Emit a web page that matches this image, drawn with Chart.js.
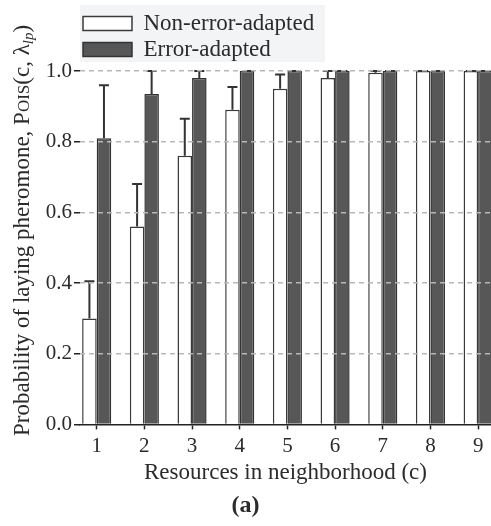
<!DOCTYPE html>
<html>
<head>
<meta charset="utf-8">
<script src="https://cdn.jsdelivr.net/npm/chart.js@4"></script>
<style>
  html, body { margin: 0; padding: 0; background: #ffffff; }
  #wrap { width: 491px; height: 526px; }
</style>
</head>
<body>
<div id="wrap"><canvas id="c"></canvas></div>
<script>
// ---- data ----
const categories = [1, 2, 3, 4, 5, 6, 7, 8, 9];
const nonErrorAdapted = [0.30, 0.56, 0.76, 0.89, 0.95, 0.98, 0.995, 1.0, 1.0];
const nonErrorAdaptedErr = [0.105, 0.12, 0.105, 0.065, 0.04, 0.02, 0.005, 0.0, 0.0];
const errorAdapted = [0.81, 0.935, 0.98, 1.0, 1.0, 1.0, 1.0, 1.0, 1.0];
const errorAdaptedErr = [0.15, 0.065, 0.02, 0.0, 0.0, 0.0, 0.0, 0.0, 0.0];
const yTicks = [0.0, 0.2, 0.4, 0.6, 0.8, 1.0];
const seriesNames = ['Non-error-adapted', 'Error-adapted'];
const xTitle = 'Resources in neighborhood (c)';
const yTitleParts = ['Probability of laying pheromone, P', 'OIS', '(c, λ', 'lp', ')'];
const panelLabel = '(a)';

const SERIF = '"Liberation Serif", "Times New Roman", serif';
const TEXT = '#2b2b2b';

const errorBars = {
  id: 'errorBars',
  afterDatasetsDraw(chart) {
    const ctx = chart.ctx;
    const ys = chart.scales.y;
    const errs = [nonErrorAdaptedErr, errorAdaptedErr];
    chart.data.datasets.forEach((ds, di) => {
      const meta = chart.getDatasetMeta(di);
      meta.data.forEach((bar, i) => {
        const v = ds.data[i].y;
        const top = ys.getPixelForValue(v + errs[di][i]);
        const base = ys.getPixelForValue(v);
        ctx.save();
        ctx.strokeStyle = '#333';
        ctx.lineWidth = 2;
        ctx.beginPath();
        ctx.moveTo(bar.x, base);
        ctx.lineTo(bar.x, top);
        ctx.moveTo(bar.x - 5, top);
        ctx.lineTo(bar.x + 5, top);
        ctx.stroke();
        ctx.restore();
      });
    });
  }
};

const legendBg = {
  id: 'legendBg',
  beforeDraw(chart) {
    const lg = chart.legend;
    if (!lg || !lg.legendHitBoxes) return;
    const ctx = chart.ctx;
    ctx.save();
    ctx.fillStyle = '#f3f4f6';
    ctx.fillRect(lg.left, lg.top - 4, 245, 57);
    ctx.restore();
  }
};

const yTitle = {
  id: 'yTitle',
  afterDraw(chart) {
    const ctx = chart.ctx;
    ctx.save();
    ctx.translate(29, 436);
    ctx.rotate(-Math.PI / 2);
    ctx.fillStyle = TEXT;
    ctx.textBaseline = 'alphabetic';
    ctx.textAlign = 'left';
    let x = 0;
    const big = '23px ' + SERIF;
    const small = '17px ' + SERIF;
    const sub = 'italic 15px ' + SERIF;
    const parts = [[yTitleParts[0], big, 0], [yTitleParts[1], small, 0], [yTitleParts[2], big, 0], [yTitleParts[3], sub, 4], [yTitleParts[4], big, 0]];
    parts.forEach(([t, f, dy]) => {
      ctx.font = f;
      ctx.fillText(t, x, dy);
      x += ctx.measureText(t).width;
    });
    ctx.restore();
  }
};

new Chart(document.getElementById('c'), {
  type: 'bar',
  data: {
    datasets: [
      {
        label: seriesNames[0],
        data: categories.map((c, i) => ({ x: c, y: nonErrorAdapted[i] })),
        backgroundColor: '#ffffff',
        borderColor: '#3a3a3a',
        borderWidth: 1.5
      },
      {
        label: seriesNames[1],
        data: categories.map((c, i) => ({ x: c, y: errorAdapted[i] })),
        backgroundColor: '#575757',
        borderColor: '#333333',
        borderWidth: 1.5
      }
    ]
  },
  options: {
    responsive: true,
    maintainAspectRatio: false,
    animation: false,
    categoryPercentage: 0.61,
    barPercentage: 1.0,
    layout: { padding: { top: 9, left: 0, right: 0, bottom: 6 } },
    plugins: {
      legend: {
        position: 'top',
        align: 'start',
        fullSize: false,
        maxWidth: 260,
        labels: {
          boxWidth: 49,
          boxHeight: 14,
          padding: 3,
          color: TEXT,
          font: { family: SERIF, size: 23 }
        }
      },
      title: {
        display: true,
        position: 'bottom',
        text: panelLabel,
        color: TEXT,
        font: { family: SERIF, size: 24, weight: 'bold' },
        padding: { top: 4, bottom: 0 }
      },
      tooltip: { enabled: false }
    },
    scales: {
      x: {
        type: 'linear',
        offset: false,
        min: 0.65,
        max: 9.27,
        afterBuildTicks(scale) { scale.ticks = categories.map(v => ({ value: v })); },
        grid: { offset: false, drawOnChartArea: false, drawTicks: true, tickLength: 5, tickColor: '#222', tickWidth: 1.5 },
        border: { display: true, color: '#222', width: 1.5 },
        ticks: { color: TEXT, padding: 4, font: { family: SERIF, size: 21 }, maxRotation: 0, autoSkip: false },
        title: { display: true, text: xTitle, color: TEXT, font: { family: SERIF, size: 23 }, padding: { top: -3, bottom: 0 } }
      },
      y: {
        min: 0,
        max: 1.0,
        afterBuildTicks(scale) { scale.ticks = yTicks.map(v => ({ value: v })); },
        afterFit(scale) { scale.width = 80; },
        grid: {
          z: 1,
          color: (ctx) => ctx.tick && ctx.tick.value === 0 ? 'rgba(0,0,0,0)' : '#b8b8b8',
          lineWidth: 1.5,
          tickColor: '#222',
          tickLength: 6,
          tickWidth: 1.5,
          tickBorderDash: []
        },
        border: { display: false, dash: [5, 4] },
        ticks: {
          color: TEXT,
          padding: 2,
          font: { family: SERIF, size: 21 },
          callback: (v) => Number(v).toFixed(1)
        }
      }
    }
  },
  plugins: [legendBg, errorBars, yTitle]
});
</script>
</body>
</html>
